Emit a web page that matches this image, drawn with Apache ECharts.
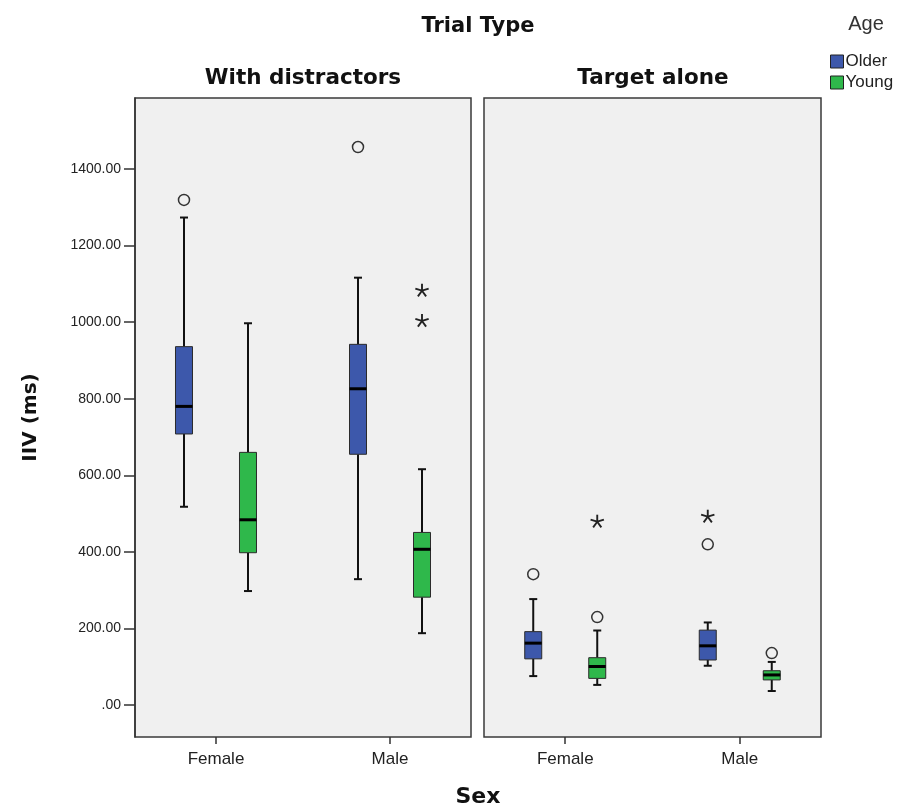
<!DOCTYPE html>
<html>
<head>
<meta charset="utf-8">
<script src="https://cdn.jsdelivr.net/npm/echarts@6/dist/echarts.min.js"></script>
<style>
  html, body { margin: 0; padding: 0; background: #ffffff; }
  #chart { width: 905px; height: 807px; }
</style>
</head>
<body>
<div id="chart"></div>
<script>
// Categories
const sexes = ['Female', 'Male'];
const ages = ['Older', 'Young'];
const trialTypes = ['With distractors', 'Target alone'];
const yTicks = [0, 200, 400, 600, 800, 1000, 1200, 1400];

// Box summaries per sex: [lower whisker, Q1, median, Q3, upper whisker]
const distractorsOlder = [[518, 708, 780, 936, 1273], [329, 655, 826, 942, 1116]];
const distractorsYoung = [[298, 398, 484, 660, 997], [188, 282, 407, 451, 616]];
const targetOlder = [[76, 121, 162, 192, 277], [103, 118, 155, 196, 216]];
const targetYoung = [[53, 70, 101, 124, 195], [37, 66, 79, 90, 113]];

// Outliers (circles) and extremes (stars): [sex index, value]
const distractorsOlderOutliers = [[0, 1319], [1, 1457]];
const distractorsOlderExtremes = [];
const distractorsYoungOutliers = [];
const distractorsYoungExtremes = [[1, 1082], [1, 1003]];
const targetOlderOutliers = [[0, 342], [1, 420]];
const targetOlderExtremes = [[1, 492]];
const targetYoungOutliers = [[0, 230], [1, 136]];
const targetYoungExtremes = [[0, 479]];

const COLORS = { Older: '#3d58ab', Young: '#2fb84b' };
const OFFSET = { Older: -32, Young: 32 };
const BOX_W = 17;
const CAP_W = 8;
const INK = '#111';

function boxRenderer(offset) {
  return function (params, api) {
    const x = api.value(0);
    const vals = [api.value(1), api.value(2), api.value(3), api.value(4), api.value(5)];
    const cx = api.coord([x, vals[2]])[0] + offset;
    const py = vals.map(v => api.coord([x, v])[1]);
    const hw = BOX_W / 2;
    const lineStyle = { stroke: INK, lineWidth: 2 };
    return {
      type: 'group',
      children: [
        { type: 'line', shape: { x1: cx, y1: py[0], x2: cx, y2: py[1] }, style: lineStyle },
        { type: 'line', shape: { x1: cx, y1: py[3], x2: cx, y2: py[4] }, style: lineStyle },
        { type: 'line', shape: { x1: cx - CAP_W / 2, y1: py[0], x2: cx + CAP_W / 2, y2: py[0] }, style: lineStyle },
        { type: 'line', shape: { x1: cx - CAP_W / 2, y1: py[4], x2: cx + CAP_W / 2, y2: py[4] }, style: lineStyle },
        { type: 'rect', shape: { x: cx - hw, y: py[3], width: BOX_W, height: py[1] - py[3] },
          style: { fill: api.visual('color'), stroke: '#2b2b2b', lineWidth: 1 } },
        { type: 'line', shape: { x1: cx - hw, y1: py[2], x2: cx + hw, y2: py[2] },
          style: { stroke: '#000', lineWidth: 3 } }
      ]
    };
  };
}

function circleRenderer(offset) {
  return function (params, api) {
    const p = api.coord([api.value(0), api.value(1)]);
    return { type: 'circle', shape: { cx: p[0] + offset, cy: p[1], r: 5.5 },
      style: { fill: 'none', stroke: '#333', lineWidth: 1.5 } };
  };
}

function starRenderer(offset) {
  return function (params, api) {
    const p = api.coord([api.value(0), api.value(1)]);
    const cx = p[0] + offset, cy = p[1];
    const children = [];
    for (let k = 0; k < 5; k++) {
      const a = (-90 + k * 72) * Math.PI / 180;
      children.push({ type: 'line',
        shape: { x1: cx, y1: cy, x2: cx + 7 * Math.cos(a), y2: cy + 7 * Math.sin(a) },
        style: { stroke: '#222', lineWidth: 1.9 } });
    }
    return { type: 'group', children };
  };
}

const boxData = [
  [distractorsOlder, distractorsYoung],
  [targetOlder, targetYoung]
];
const outlierData = [
  [distractorsOlderOutliers, distractorsYoungOutliers],
  [targetOlderOutliers, targetYoungOutliers]
];
const extremeData = [
  [distractorsOlderExtremes, distractorsYoungExtremes],
  [targetOlderExtremes, targetYoungExtremes]
];

const grids = [
  { left: 135, top: 98, width: 336, height: 639 },
  { left: 484, top: 98, width: 337, height: 639 }
];

const labelFont = 'Liberation Sans, Arial, sans-serif';
const titleFont = 'DejaVu Sans, sans-serif';

const xAxes = grids.map((g, i) => ({
  type: 'value', gridIndex: i, min: -0.4655, max: 1.4655,
  axisLine: { show: false, onZero: false },
  splitLine: { show: false },
  axisTick: { show: true, customValues: [0, 1], length: 7, lineStyle: { color: '#333', width: 1.5 } },
  axisLabel: { customValues: [0, 1], formatter: v => sexes[Math.round(v)], margin: 14,
    color: '#222', fontSize: 17, fontFamily: labelFont }
}));

const yAxes = grids.map((g, i) => ({
  type: 'value', gridIndex: i, min: -83, max: 1585,
  splitLine: { show: false },
  axisLine: { show: i === 0, onZero: false, lineStyle: { color: '#333', width: 1.5 } },
  axisTick: { show: i === 0, customValues: yTicks, length: 11, lineStyle: { color: '#333', width: 1.5 } },
  axisLabel: { show: i === 0, customValues: yTicks, margin: 14,
    formatter: v => (v === 0 ? '.00' : v.toFixed(2)),
    color: '#222', fontSize: 14, fontFamily: labelFont },
  name: i === 0 ? 'IIV (ms)' : '',
  nameLocation: 'middle', nameGap: 94, nameRotate: 90,
  nameTextStyle: { fontSize: 20, fontWeight: 'bold', color: '#111', fontFamily: titleFont }
}));

const series = [];
trialTypes.forEach((t, gi) => {
  ages.forEach((age, ai) => {
    series.push({
      type: 'custom', name: age, xAxisIndex: gi, yAxisIndex: gi,
      itemStyle: { color: COLORS[age] },
      renderItem: boxRenderer(OFFSET[age]),
      encode: { x: 0, y: [1, 2, 3, 4, 5] },
      data: boxData[gi][ai].map((d, si) => [si].concat(d)),
      z: 3
    });
    series.push({
      type: 'custom', name: age + ' outliers', xAxisIndex: gi, yAxisIndex: gi,
      renderItem: circleRenderer(OFFSET[age]),
      encode: { x: 0, y: 1 },
      data: outlierData[gi][ai], z: 4
    });
    series.push({
      type: 'custom', name: age + ' extremes', xAxisIndex: gi, yAxisIndex: gi,
      renderItem: starRenderer(OFFSET[age]),
      encode: { x: 0, y: 1 },
      data: extremeData[gi][ai], z: 4
    });
  });
});

function titleText(text, x, y, size) {
  return { type: 'text', style: { text, x, y, textAlign: 'center', textVerticalAlign: 'middle',
    fontSize: size, fontWeight: 'bold', fill: '#111', fontFamily: titleFont } };
}

const chart = echarts.init(document.getElementById('chart'), null, { renderer: 'canvas' });
chart.setOption({
  animation: false,
  backgroundColor: '#ffffff',
  grid: grids.map(g => Object.assign({ show: true, backgroundColor: '#f0f0f0',
    borderColor: '#3a3a3a', borderWidth: 1.5 }, g)),
  xAxis: xAxes,
  yAxis: yAxes,
  legend: {
    data: ages, orient: 'vertical', left: 825, top: 48,
    icon: 'rect', itemWidth: 13, itemHeight: 13, itemGap: 4,
    itemStyle: { borderColor: '#222', borderWidth: 1 },
    textStyle: { fontSize: 17, color: '#222', fontFamily: labelFont, padding: [0, 0, 0, -3] }
  },
  graphic: [
    titleText('Trial Type', 478, 27, 21),
    titleText(trialTypes[0], 303, 78, 21.5),
    titleText(trialTypes[1], 653, 78, 21.5),
    titleText('Sex', 478, 797, 22),
    { type: 'text', style: { text: 'Age', x: 866, y: 24, textAlign: 'center', textVerticalAlign: 'middle',
      fontSize: 20, fill: '#333', fontFamily: labelFont } }
  ],
  series: series
});
</script>
</body>
</html>
